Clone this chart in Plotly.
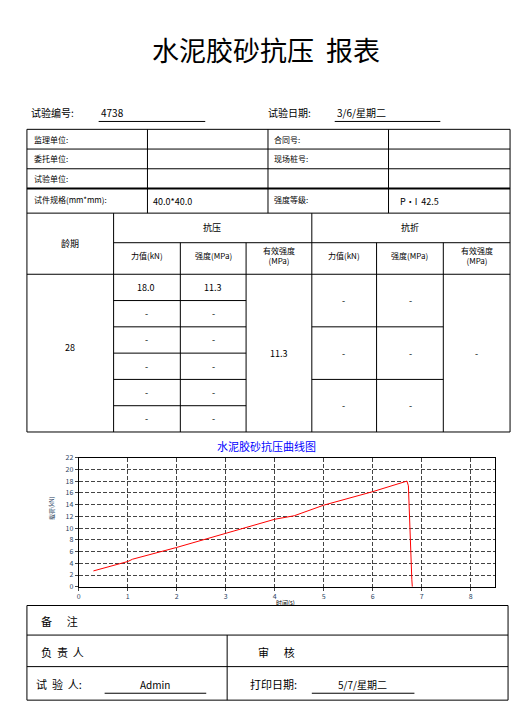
import plotly.graph_objects as go

W, H = 531, 722
OFF = 8  # page body margin
FW, FH = W - 2 * OFF, H - 2 * OFF
FONT = "Noto Sans CJK SC"

# curve data
time_s = [0.3, 1.0, 1.1, 2.0, 3.0, 4.0, 4.4, 5.0, 6.0, 6.7, 6.73, 6.75, 6.78, 6.8, 6.81]
load_kn = [2.7, 4.3, 4.7, 6.7, 9.1, 11.5, 12.1, 13.9, 16.2, 18.0, 17.2, 11.8, 6.5, 1.2, 0.0]

info_left = ["监理单位:", "委托单位:", "试验单位:"]
info_right = ["合同号:", "现场桩号:", ""]
sub_heads = ["力值(kN)", "强度(MPa)", "有效强度<br>(MPa)", "力值(kN)", "强度(MPa)", "有效强度<br>(MPa)"]
force_vals = ["18.0", "-", "-", "-", "-", "-"]
strength_vals = ["11.3", "-", "-", "-", "-", "-"]
effective = "11.3"
flex_force = ["-", "-", "-"]
flex_strength = ["-", "-", "-"]

fig = go.Figure()
fig.add_trace(go.Scatter(x=time_s, y=load_kn, mode="lines",
                         line=dict(color="red", width=1), hoverinfo="skip"))

shapes, ann = [], []

def px(x):
    return (x - OFF) / FW

def py(y):
    return 1 - (y - OFF) / FH

def line(x0, y0, x1, y1, w=1):
    shapes.append(dict(type="line", xref="paper", yref="paper",
                       x0=px(x0), y0=py(y0), x1=px(x1), y1=py(y1),
                       line=dict(color="black", width=w)))

def text(x, y, s, size=9, anchor="left", color="black"):
    ann.append(dict(xref="paper", yref="paper", x=px(x), y=py(y), text=s,
                    showarrow=False, xanchor=anchor, yanchor="middle",
                    font=dict(family=FONT, size=size, color=color)))

text(265, 44, "水泥胶砂抗压  报表", 27, "center")
text(27, 108, "试验编号:", 10)
text(97, 108, "4738", 10)
line(97, 117, 204, 117)
text(265, 108, "试验日期:", 10)
text(334, 108, "3/6/星期二", 10)
line(334, 117, 440, 117)

# top table
L, R = 25, 510
rows = [125, 145, 165, 185, 210]
for y in rows:
    line(L, y, R, y, 2 if y == 185 else 1)
for x in [146, 267, 388]:
    line(x, 125, x, 210)
for i in range(3):
    yc = (rows[i] + rows[i + 1]) / 2
    text(30, yc, info_left[i], 8)
    text(271, yc, info_right[i], 8)
text(30, 196, "试件规格(mm*mm):", 8)
text(150, 198, "40.0*40.0", 9)
text(271, 196, "强度等级:", 8)
text(398, 198, "P·I  42.5", 9)

# results table
cols = [25, 112, 179, 245, 311, 376, 443, 510]
line(L, 432, R, 432)
line(L, 125, L, 432)
line(R, 125, R, 432)
line(112, 240, R, 240)
line(112, 272, R, 272)
line(L, 272, 112, 272)
line(112, 210, 112, 432)
line(311, 210, 311, 432)
for x in [179, 245, 376, 443]:
    line(x, 240, x, 432)
text(68, 241, "龄期", 9, "center")
text(211, 225, "抗压", 9, "center")
text(410, 225, "抗折", 9, "center")
for i, s in enumerate(sub_heads):
    text((cols[i + 1] + cols[i + 2]) / 2, 253, s, 8, "center")
step = (432 - 272) / 6
for i in range(6):
    y0 = 272 + i * step
    if i > 0:
        line(112, y0, 245, y0)
    text(145, y0 + step / 2, force_vals[i], 9, "center")
    text(212, y0 + step / 2, strength_vals[i], 9, "center")
for i in range(3):
    y0 = 272 + i * 2 * step
    if i > 0:
        line(311, y0, 443, y0)
    text(343, y0 + step, flex_force[i], 9, "center")
    text(410, y0 + step, flex_strength[i], 9, "center")
text(68, 346, "28", 9, "center")
text(278, 352, effective, 9, "center")
text(476, 352, "-", 9, "center")

# bottom table
BL, BR = 25, 508
for y in [608, 638, 670, 704]:
    line(BL, y, BR, y)
line(BL, 608, BL, 704)
line(BR, 608, BR, 704)
line(226, 638, 226, 704)
text(37, 624, "备      注", 11)
text(37, 655, "负  责  人", 11)
text(255, 655, "审      核", 11)
text(32, 688, "试  验  人:", 11)
text(154, 688, "Admin", 10, "center")
line(103, 697, 205, 697)
text(247, 688, "打印日期:", 11)
text(362, 688, "5/7/星期二", 10, "center")
line(311, 697, 414, 697)

# chart title and axis titles
text(266, 446, "水泥胶砂抗压曲线图", 11, "center", "blue")
text(285, 605, "时间(s)", 6, "center")
ann.append(dict(xref="paper", yref="paper", x=px(43), y=py(523), text="载荷(kN)",
                showarrow=False, textangle=-90, font=dict(family=FONT, size=6)))

fig.update_layout(
    width=FW, height=FH, margin=dict(l=0, r=0, t=0, b=0),
    paper_bgcolor="white", plot_bgcolor="white", showlegend=False,
    shapes=shapes, annotations=ann,
    xaxis=dict(domain=[px(77), px(495)], range=[0, 8.5], dtick=1,
               showgrid=True, gridcolor="#444", griddash="4px,2px", gridwidth=0.7,
               showline=True, linecolor="black", mirror=True, zeroline=False,
               ticks="outside", ticklen=3, tickfont=dict(size=7, family=FONT)),
    yaxis=dict(domain=[py(589), py(458)], range=[0, 22], dtick=2,
               showgrid=True, gridcolor="#444", griddash="4px,2px", gridwidth=0.7,
               showline=True, linecolor="black", mirror=True, zeroline=False,
               ticks="outside", ticklen=3, tickfont=dict(size=7, family=FONT)),
)

fig.write_html("out.html")
